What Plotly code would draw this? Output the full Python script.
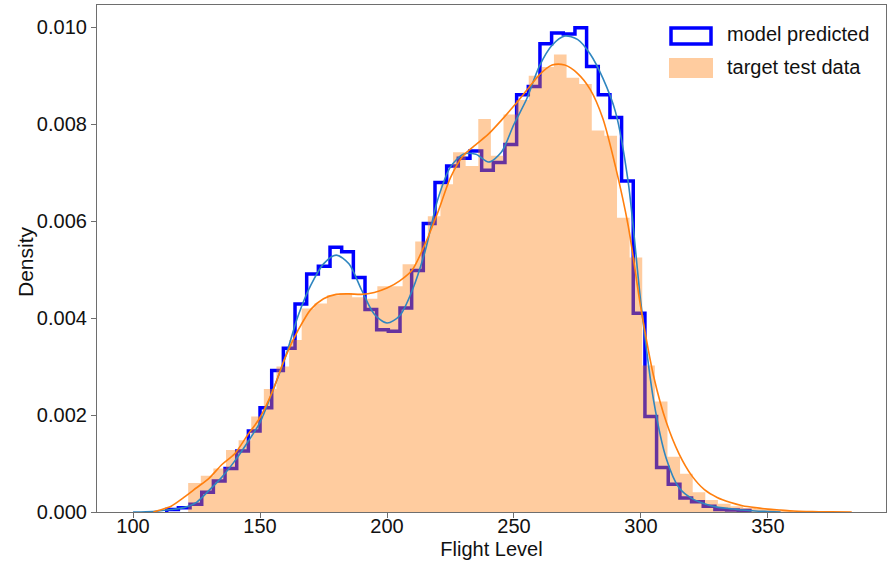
import plotly.graph_objects as go

# ---------------- data ----------------
# model predicted: step histogram (density), 50 bins
model_edges = [113.26, 117.85, 122.44, 127.04, 131.63, 136.22, 140.82, 145.41, 150.00, 154.60,
               159.19, 163.78, 168.37, 172.97, 177.56, 182.15, 186.75, 191.34, 195.93, 200.52,
               205.12, 209.71, 214.30, 218.90, 223.49, 228.08, 232.67, 237.27, 241.86, 246.45,
               251.05, 255.64, 260.23, 264.82, 269.42, 274.01, 278.60, 283.20, 287.79, 292.38,
               296.97, 301.57, 306.16, 310.75, 315.35, 319.94, 324.53, 329.12, 333.72, 338.31,
               342.90]
model_density = [0.00005, 0.00009, 0.00016, 0.00041, 0.00064, 0.00090, 0.00126, 0.00167, 0.00215, 0.00292,
                 0.00338, 0.00429, 0.00491, 0.00507, 0.00546, 0.00537, 0.00484, 0.00418, 0.00376, 0.00373,
                 0.00421, 0.00498, 0.00595, 0.00680, 0.00714, 0.00730, 0.00745, 0.00705, 0.00721, 0.00758,
                 0.00861, 0.00878, 0.00966, 0.00988, 0.00986, 0.00999, 0.00919, 0.00861, 0.00814, 0.00683,
                 0.00410, 0.00197, 0.00092, 0.00057, 0.00029, 0.00021, 0.00012, 0.00005, 0.00004, 0.00003]

# target test data: filled histogram (density), 50 bins
target_edges = [121.70, 126.67, 131.63, 136.60, 141.57, 146.53, 151.50, 156.47, 161.44, 166.40,
                171.37, 176.34, 181.30, 186.27, 191.24, 196.20, 201.17, 206.14, 211.11, 216.07,
                221.04, 226.01, 230.97, 235.94, 240.91, 245.87, 250.84, 255.81, 260.78, 265.74,
                270.71, 275.68, 280.64, 285.61, 290.58, 295.54, 300.51, 305.48, 310.45, 315.41,
                320.38, 325.35, 330.31, 335.28, 340.25, 345.21, 350.18, 355.15, 360.12, 365.08,
                370.05]
target_density = [0.00060, 0.00075, 0.00090, 0.00128, 0.00148, 0.00197, 0.00254, 0.00300, 0.00355, 0.00420,
                  0.00430, 0.00447, 0.00452, 0.00443, 0.00440, 0.00466, 0.00466, 0.00511, 0.00558, 0.00610,
                  0.00676, 0.00742, 0.00714, 0.00811, 0.00735, 0.00820, 0.00850, 0.00900, 0.00918, 0.00944,
                  0.00896, 0.00883, 0.00787, 0.00776, 0.00607, 0.00525, 0.00302, 0.00228, 0.00114, 0.00079,
                  0.00041, 0.00025, 0.00017, 0.00012, 0.00008, 0.00006, 0.00004, 0.00003, 0.00002, 0.00002]

# KDE curves
model_kde_x = [100, 105, 110, 115, 120, 125, 130, 135, 140, 145, 150, 155, 160, 165, 170, 175, 180, 185,
               190, 195, 200, 205, 210, 215, 220, 225, 230, 235, 240, 245, 250, 255, 260, 265, 270, 275,
               280, 285, 290, 295, 300, 305, 310, 315, 320, 325, 330, 335, 340, 345, 350, 355]
model_kde_y = [0.0, 0.000005, 0.00002, 0.00005, 0.00009, 0.00020, 0.00045, 0.00072, 0.00105, 0.00143,
               0.00185, 0.00250, 0.00320, 0.00405, 0.00468, 0.00512, 0.00530, 0.00512, 0.00458, 0.00408,
               0.00390, 0.00405, 0.00458, 0.00538, 0.00645, 0.00712, 0.00738, 0.00738, 0.00722, 0.00742,
               0.00800, 0.00852, 0.00920, 0.00963, 0.00982, 0.00975, 0.00945, 0.00895, 0.00825, 0.00680,
               0.00430, 0.00230, 0.00110, 0.00050, 0.00028, 0.00017, 0.00010, 0.00007, 0.00004, 0.00002,
               0.00001, 0.0]

target_kde_x = [108, 110, 115, 120, 125, 130, 135, 140, 145, 150, 155, 160, 165, 170, 175, 180, 185, 190,
                195, 200, 205, 210, 215, 220, 225, 230, 235, 240, 245, 250, 255, 260, 265, 270, 275, 280,
                285, 290, 295, 300, 305, 310, 315, 320, 325, 330, 335, 340, 345, 350, 355, 360, 365, 370,
                375, 383]
target_kde_y = [0.0, 0.00003, 0.00012, 0.00030, 0.00050, 0.00070, 0.00098, 0.00120, 0.00158, 0.00195,
                0.00250, 0.00320, 0.00375, 0.00418, 0.00440, 0.00449, 0.00450, 0.00449, 0.00453, 0.00462,
                0.00477, 0.00500, 0.00553, 0.00618, 0.00690, 0.00735, 0.00758, 0.00780, 0.00808, 0.00838,
                0.00870, 0.00902, 0.00922, 0.00922, 0.00905, 0.00872, 0.00812, 0.00712, 0.00590, 0.00420,
                0.00280, 0.00185, 0.00120, 0.00075, 0.00046, 0.00030, 0.00020, 0.00013, 0.00009, 0.00006,
                0.00004, 0.00002, 0.00001, 0.000005, 0.000002, 0.0]

x_ticks = [100, 150, 200, 250, 300, 350]
y_ticks = [0.000, 0.002, 0.004, 0.006, 0.008, 0.010]
y_tick_labels = ["0.000", "0.002", "0.004", "0.006", "0.008", "0.010"]
legend_labels = ["model predicted", "target test data"]
x_title = "Flight Level"
y_title = "Density"


def step_path(edges, dens):
    xs = [edges[0]] + edges[:-1] + [edges[-1]]
    ys = [0] + dens + [0]
    return xs, ys


FONT = "Liberation Sans, Arial, sans-serif"
FS = 20

fig = go.Figure()

mx, my = step_path(model_edges, model_density)
fig.add_trace(go.Scatter(x=mx, y=my, mode="lines", line=dict(color="#0000ff", width=3.5, shape="hv"),
                         name=legend_labels[0], showlegend=False, hoverinfo="skip"))

tx, ty = step_path(target_edges, target_density)
fig.add_trace(go.Scatter(x=tx, y=ty, mode="lines", line=dict(width=0, shape="hv"),
                         fill="tozeroy", fillcolor="rgba(255,127,14,0.4)",
                         name=legend_labels[1], showlegend=False, hoverinfo="skip"))

fig.add_trace(go.Scatter(x=model_kde_x, y=model_kde_y, mode="lines",
                         line=dict(color="#2f86c0", width=1.6, shape="spline", smoothing=0.8),
                         showlegend=False, hoverinfo="skip"))
fig.add_trace(go.Scatter(x=target_kde_x, y=target_kde_y, mode="lines",
                         line=dict(color="#ff7f0e", width=1.6, shape="spline", smoothing=0.8),
                         showlegend=False, hoverinfo="skip"))

W, H = 894, 562
L, R, T, B = 97, 8, 5, 50
pw, ph = W - L - R, H - T - B


def px2paper(px, py):
    return (px - L) / pw, 1 - (py - T) / ph


# custom legend (matplotlib style patches)
x0, y0 = px2paper(671, 28)
x1, y1 = px2paper(711, 44)
fig.add_shape(type="rect", xref="paper", yref="paper", x0=x0, x1=x1, y0=y1, y1=y0,
              line=dict(color="#0000ff", width=3.5), fillcolor="rgba(0,0,0,0)")
x0, y0 = px2paper(669, 58)
x1, y1 = px2paper(713, 78)
fig.add_shape(type="rect", xref="paper", yref="paper", x0=x0, x1=x1, y0=y1, y1=y0,
              line=dict(width=0), fillcolor="rgba(255,127,14,0.4)")
ax, ay = px2paper(725, 34)
fig.add_annotation(xref="paper", yref="paper", x=ax, y=ay, text=legend_labels[0], showarrow=False,
                   xanchor="left", yanchor="middle", font=dict(family=FONT, size=FS, color="#111"))
ax, ay = px2paper(725, 67)
fig.add_annotation(xref="paper", yref="paper", x=ax, y=ay, text=legend_labels[1], showarrow=False,
                   xanchor="left", yanchor="middle", font=dict(family=FONT, size=FS, color="#111"))

# y axis title placed like matplotlib's
ax, ay = px2paper(25, 262)
fig.add_annotation(xref="paper", yref="paper", x=ax, y=ay, text=y_title, showarrow=False,
                   textangle=-90, xanchor="center", yanchor="middle",
                   font=dict(family=FONT, size=21, color="#111"))

axis_common = dict(showgrid=False, zeroline=False, showline=True, mirror=True,
                   linecolor="#6e6e6e", linewidth=1.2, ticks="outside", ticklen=5,
                   tickcolor="#6e6e6e", tickwidth=1.2,
                   tickfont=dict(family=FONT, size=FS, color="#111"))

fig.update_layout(
    width=W, height=H,
    margin=dict(l=L, r=R, t=T, b=B, pad=0),
    paper_bgcolor="white", plot_bgcolor="white",
    showlegend=False,
    font=dict(family=FONT, color="#111"),
    xaxis=dict(range=[85.8, 396.5], tickvals=x_ticks, ticklabelstandoff=-9,
               title=dict(text=x_title, font=dict(family=FONT, size=FS, color="#111"), standoff=5),
               **axis_common),
    yaxis=dict(range=[0, 0.01046], tickvals=y_ticks, ticktext=y_tick_labels,
               **axis_common),
)

fig.write_html("out.html", config={"displayModeBar": False},
               post_script="document.body.style.margin='0';document.body.style.overflow='hidden';")
